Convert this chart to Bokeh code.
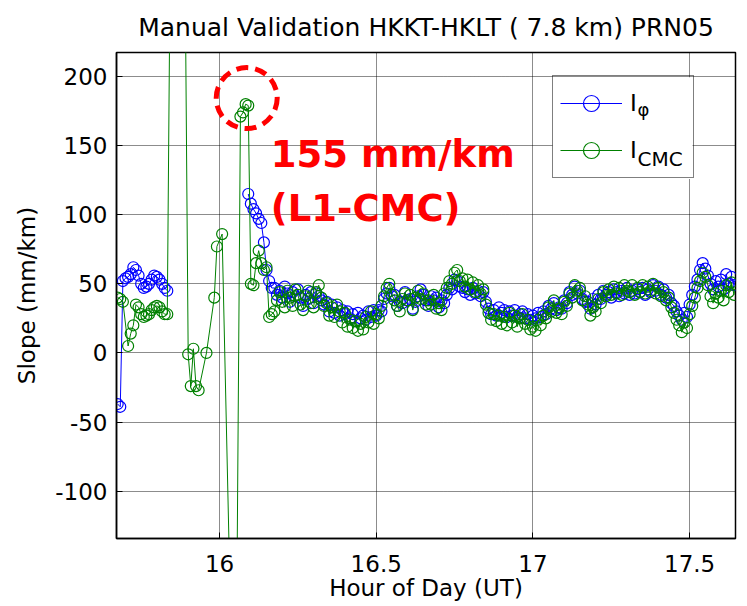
import numpy as np
from bokeh.plotting import figure
from bokeh.models import (ColumnDataSource, FixedTicker, Range1d,
                          Legend, LegendItem, Label, BoxAnnotation)
from bokeh.embed import file_html
from bokeh.resources import INLINE

N = None
TITLE = "Manual Validation HKKT-HKLT ( 7.8 km) PRN05"
X_LABEL = "Hour of Day (UT)"
Y_LABEL = "Slope (mm/km)"
X_TICKS = [16, 16.5, 17, 17.5]
X_TICK_LABELS = ["16", "16.5", "17", "17.5"]
Y_TICKS = [-100, -50, 0, 50, 100, 150, 200]
Y_TICK_LABELS = ["-100", "-50", "0", "50", "100", "150", "200"]
SERIES_NAMES = ["I", "I"]
SUBSCRIPTS = ["\u03c6", "CMC"]
NOTE_LINES = ["155 mm/km", "(L1-CMC)"]

# sampling: 30 s epochs starting at 15.675 h
T0 = 15.675
DT = 1.0 / 120.0

# I_phi (blue), early part, epochs 0..59
phi_early = [-37, -39, 52, 54, 55, 57, 62, 60, 56, 50,
             47, 48, 50, 53, 56, 55, 53, 50, 47, 45,
             N, N, N, N, N, N, N, N, N, N,
             N, N, N, N, N, N, N, N, N, N,
             N, N, N, N, N, N, N, N, N, N,
             115, 108, 104, 101, 97, 94, 80, 60, 52, 47]
# I_CMC (green), early part, epochs 0..59
cmc_early = [40, 39, 37, N, 5, 14, 20, 35, 33, 28,
             26, 27, 28, 31, 33, 34, 33, 30, 28, 28,
             N, N, N, 950, N, N, N, -1, -24, 3,
             -24, -27, N, N, 0, N, N, 40, 77, N,
             86, N, N, N, N, -340, N, 171, 174, 180,
             179, 50, 49, 65, 74, 65, 60, 62, 26, 28]
# epochs 60..236
phi_late = [47, 42, 45, 40, 48, 43, 37, 44, 41, 46,
            40, 34, 42, 39, 44, 36, 43, 41, 38, 35,
            37, 30, 35, 29, 33, 27, 31, 28, 30, 25,
            28, 23, 29, 25, 27, 24, 30, 26, 31, 27,
            31, 30, 39, 43, 47, 41, 42, 34, 37, 36,
            44, 38, 39, 32, 37, 41, 46, 42, 38, 34,
            41, 38, 40, 33, 38, 36, 42, 47, 46, 53,
            52, 48, 47, 44, 46, 42, 47, 43, 45, 41,
            44, 37, 32, 28, 31, 27, 33, 29, 31, 26,
            30, 27, 31, 26, 28, 30, 25, 28, 24, 27,
            25, 29, 26, 30, 28, 34, 32, 36, 31, 33,
            32, 38, 36, 44, 42, 48, 43, 45, 39, 37,
            37, 32, 39, 35, 42, 39, 45, 42, 44, 40,
            46, 44, 41, 45, 43, 47, 42, 45, 43, 46,
            44, 47, 42, 46, 44, 49, 45, 48, 42, 46,
            40, 42, 36, 34, 30, 27, 24, 29, 26, 35,
            42, 48, 53, 60, 65, 61, 56, 50, 46, 52,
            48, 53, 46, 57, 50, 55, 49]
cmc_late = [30, 38, 44, 37, 33, 45, 40, 34, 46, 42,
            35, 31, 41, 45, 36, 33, 44, 49, 40, 34,
            36, 27, 33, 26, 35, 30, 22, 29, 19, 24,
            18, 23, 16, 21, 17, 26, 22, 30, 21, 28,
            25, 34, 41, 47, 50, 42, 38, 34, 30, 39,
            43, 38, 42, 31, 40, 45, 39, 43, 35, 38,
            35, 42, 32, 36, 31, 43, 47, 52, 50, 58,
            60, 52, 54, 48, 53, 46, 51, 44, 49, 43,
            46, 35, 29, 24, 28, 23, 27, 21, 26, 20,
            29, 22, 27, 19, 25, 28, 21, 24, 17, 19,
            16, 24, 20, 27, 25, 33, 30, 38, 29, 32,
            28, 37, 34, 43, 40, 49, 45, 47, 38, 41,
            35, 27, 33, 30, 39, 36, 44, 41, 46, 42,
            48, 43, 47, 42, 49, 45, 44, 49, 42, 47,
            44, 49, 43, 48, 45, 50, 43, 47, 41, 44,
            38, 40, 33, 29, 24, 20, 15, 22, 18, 28,
            34, 40, 47, 52, 58, 55, 49, 41, 36, 43,
            40, 45, 38, 49, 44, 51, 42]

# annotation placement (data units)
NOTE_X, NOTE_Y1, NOTE_Y2 = 16.1637, 143.6, 104.3
RING_X, RING_Y = 16.0868, 184.4
SUB_X, SUB_Y1, SUB_Y2 = 17.334, 176.1, 140.2
LEG_L, LEG_R, LEG_T, LEG_B = 17.0625, 17.5093, 199.4, 125.8

FONT = "DejaVu Sans"
BLUE = "#0000ff"
GREEN = "#008000"

def to_arr(a):
    return np.array([np.nan if v is None else v for v in a], dtype=float)

phi = to_arr(phi_early + phi_late)
cmc = to_arr(cmc_early + cmc_late)
t = T0 + DT * np.arange(len(phi))

src_phi = ColumnDataSource(dict(t=t, v=phi))
keep = ~np.isnan(cmc)
src_cmc = ColumnDataSource(dict(t=t[keep], v=cmc[keep]))

p = figure(width=745, height=604, output_backend="svg", toolbar_location=None,
           x_range=Range1d(15.6713, 17.6464), y_range=Range1d(-134.3, 217.4),
           min_border_left=116, min_border_right=10, min_border_top=51,
           min_border_bottom=66, title=TITLE)
p.background_fill_color = "white"
p.border_fill_color = "white"
p.outline_line_color = "black"
p.outline_line_width = 1.5

p.title.align = "center"
p.title.text_font = FONT
p.title.text_font_size = "25px"
p.title.text_font_style = "normal"
p.title.text_color = "black"
p.title.standoff = 21

for ax, ticks, labels in ((p.xaxis[0], X_TICKS, X_TICK_LABELS),
                          (p.yaxis[0], Y_TICKS, Y_TICK_LABELS)):
    ax.ticker = FixedTicker(ticks=ticks)
    ax.major_label_overrides = {tk: lb for tk, lb in zip(ticks, labels)}
    ax.major_label_text_font = FONT
    ax.major_label_text_font_size = "23px"
    ax.major_label_text_color = "black"
    ax.axis_label_text_font = FONT
    ax.axis_label_text_font_size = "23px"
    ax.axis_label_text_font_style = "normal"
    ax.axis_label_text_color = "black"
    ax.major_tick_in = 6
    ax.major_tick_out = 0
    ax.minor_tick_line_color = None
    ax.axis_line_width = 1.5
    ax.major_tick_line_width = 1
p.xaxis[0].axis_label = X_LABEL
p.yaxis[0].axis_label = Y_LABEL
p.xaxis[0].major_label_standoff = 16
p.yaxis[0].major_label_standoff = 9
p.xaxis[0].axis_label_standoff = 0
p.yaxis[0].axis_label_standoff = 12

p.xgrid.ticker = FixedTicker(ticks=X_TICKS)
p.ygrid.ticker = FixedTicker(ticks=Y_TICKS)
for g in (p.xgrid, p.ygrid):
    g.grid_line_color = "black"
    g.grid_line_dash = "1 1"
    g.grid_line_width = 1
    g.grid_line_alpha = 0.9

l_phi = p.line("t", "v", source=src_phi, line_color=BLUE, line_width=1)
s_phi = p.scatter("t", "v", source=src_phi, marker="circle", size=11,
                  fill_color=None, line_color=BLUE, line_width=1.2)
l_cmc = p.line("t", "v", source=src_cmc, line_color=GREEN, line_width=1)
s_cmc = p.scatter("t", "v", source=src_cmc, marker="circle", size=11,
                  fill_color=None, line_color=GREEN, line_width=1.2)

# red dashed ring highlighting the CMC values
p.scatter(x=[RING_X], y=[RING_Y], marker="circle", size=61, fill_color=None,
          line_color="#ff0000", line_width=5, line_dash="12 7")

# white legend background (drawn first so the subscripts stay visible)
p.add_layout(BoxAnnotation(left=LEG_L, right=LEG_R, top=LEG_T, bottom=LEG_B,
                           fill_color="white", fill_alpha=1,
                           line_color=None, level="annotation"))

p.add_layout(Label(x=SUB_X, y=SUB_Y1, text=SUBSCRIPTS[0], text_font=FONT,
                   text_font_size="18px", text_baseline="middle",
                   text_color="black", level="overlay"))
p.add_layout(Label(x=SUB_X, y=SUB_Y2, text=SUBSCRIPTS[1], text_font=FONT,
                   text_font_size="20px", text_baseline="alphabetic",
                   text_color="black", level="overlay"))

legend = Legend(items=[LegendItem(label=SERIES_NAMES[0], renderers=[l_phi, s_phi]),
                       LegendItem(label=SERIES_NAMES[1], renderers=[l_cmc, s_cmc])],
                location=(436, 360), orientation="vertical",
                border_line_color="black", border_line_width=1.5,
                background_fill_alpha=0,
                label_text_font=FONT, label_text_font_size="23px",
                label_text_color="black",
                glyph_width=62, glyph_height=40, label_height=40, label_width=56,
                spacing=7, padding=7, label_standoff=8, margin=0)
p.add_layout(legend, "center")

for txt, yy in zip(NOTE_LINES, (NOTE_Y1, NOTE_Y2)):
    p.add_layout(Label(x=NOTE_X, y=yy, text=txt, text_font=FONT,
                       text_font_size="37px", text_font_style="bold",
                       text_color="#ff0000", text_baseline="alphabetic"))

open("out.html", "w").write(file_html(p, INLINE))
